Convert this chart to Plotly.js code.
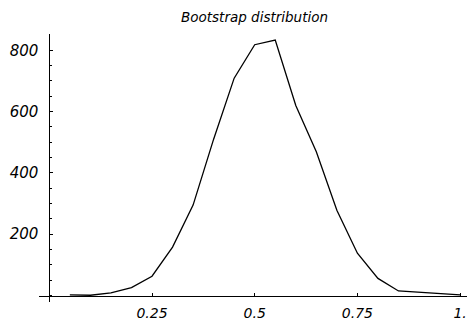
<!DOCTYPE html>
<html>
<head>
<meta charset="utf-8">
<script src="https://cdn.plot.ly/plotly-3.0.1.min.js"></script>
<style>html,body{margin:0;padding:0;background:#fff;}#chart{width:467px;height:323px;}</style>
</head>
<body>
<div id="chart"></div>
<script>
const xValues = [0.05,0.1,0.15,0.2,0.25,0.3,0.35,0.4,0.45,0.5,0.55,0.6,0.65,0.7,0.75,0.8,0.85,0.9,0.95,1.0];
const counts  = [2,1,9,26,63,158,295,510,709,818,833,620,469,278,138,56,15,11,5,2];
const xTickVals = [0.25,0.5,0.75,1.0];
const xTickText = ["0.25","0.5","0.75","1."];
const yTickVals = [200,400,600,800];
const yTickText = ["200","400","600","800"];
const titleText = "Bootstrap distribution";

const fontFam = "'DejaVu Sans', sans-serif";
const xr = [-0.0251, 1.0168];
const yr = [-21, 853];

Plotly.newPlot('chart', [{
  x: xValues, y: counts, type: 'scatter', mode: 'lines',
  line: {color: '#000', width: 1.3}, hoverinfo: 'none'
}], {
  width: 467, height: 323,
  margin: {l: 39, r: 0, t: 34, b: 21, pad: 0},
  paper_bgcolor: '#fff', plot_bgcolor: '#fff',
  showlegend: false,
  title: {text: titleText, x: 0.545, xanchor: 'center', y: 0.947, yanchor: 'middle',
          font: {family: fontFam, size: 13.5, style: 'italic', color: '#000'}},
  xaxis: {
    range: xr, anchor: 'free', position: -yr[0] / (yr[1] - yr[0]),
    showgrid: false, zeroline: false, showline: true, linecolor: '#000', linewidth: 1,
    tickmode: 'array', tickvals: xTickVals, ticktext: xTickText,
    ticks: 'inside', ticklen: 3, tickwidth: 1, tickcolor: '#000',
    tickfont: {family: fontFam, size: 14, style: 'italic', color: '#000'},
    ticklabelstandoff: 5
  },
  yaxis: {
    range: yr, anchor: 'free', position: -xr[0] / (xr[1] - xr[0]),
    showgrid: false, zeroline: false, showline: true, linecolor: '#000', linewidth: 1,
    tickmode: 'array', tickvals: yTickVals, ticktext: yTickText,
    ticks: 'inside', ticklen: 3, tickwidth: 1, tickcolor: '#000',
    minor: {dtick: 50, tick0: 0, ticks: 'inside', ticklen: 2, tickwidth: 1, tickcolor: '#000', showgrid: false},
    tickfont: {family: fontFam, size: 15, style: 'italic', color: '#000'},
    ticklabelstandoff: 8
  }
}, {staticPlot: true, displayModeBar: false});
</script>
</body>
</html>
